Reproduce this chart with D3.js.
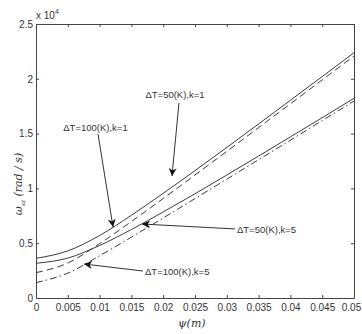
<!DOCTYPE html>
<html>
<head>
<meta charset="utf-8">
<script src="https://cdn.jsdelivr.net/npm/d3@7"></script>
<style>
body { margin: 0; background: #fff; }
.axis path, .axis line { stroke: #444; }
.axis text { font: 10px Arial, "Liberation Sans", sans-serif; fill: #333; }
.curve { fill: none; stroke: #3a3a3a; stroke-width: 1; }
.note { font: 9.5px Arial, "Liberation Sans", sans-serif; fill: #333; }
</style>
</head>
<body>
<svg id="chart" width="362" height="334"></svg>
<script>
// psi (m) sample points
var psi = [0, 0.005, 0.01, 0.015, 0.02, 0.025, 0.03, 0.035, 0.04, 0.045, 0.05];

// omega (rad/s)
var dT50k1 = [3620, 4300, 5700, 7550, 9550, 11620, 13740, 15880, 18040, 20200, 22380];
var dT100k1 = [2310, 3190, 4960, 6980, 9080, 11220, 13380, 15550, 17720, 19900, 22080];
var dT50k5 = [3170, 3640, 4790, 6250, 7850, 9510, 11220, 12950, 14700, 16450, 18220];
var dT100k5 = [1400, 2270, 3850, 5550, 7300, 9070, 10840, 12620, 14400, 16190, 17970];

var xTicks = [0, 0.005, 0.01, 0.015, 0.02, 0.025, 0.03, 0.035, 0.04, 0.045, 0.05];
var xTickLabels = ["0", "0.005", "0.01", "0.015", "0.02", "0.025", "0.03", "0.035", "0.04", "0.045", "0.05"];
var yTicks = [0, 5000, 10000, 15000, 20000, 25000];
var yTickLabels = ["0", "0.5", "1", "1.5", "2", "2.5"];

// annotations: label, text anchor point, arrow start, arrow tip (data units)
var noteLabels = ["\u0394T=50(K),k=1", "\u0394T=100(K),k=1", "\u0394T=50(K),k=5", "\u0394T=100(K),k=5"];
var noteText = [[0.02186, 18250], [0.00935, 15240], [0.0316, 5930], [0.01714, 2100]];
var noteFrom = [[0.02248, 17790], [0.00975, 14960], [0.03129, 6300], [0.01682, 2460]];
var noteTip = [[0.02138, 11130], [0.01211, 6480], [0.01667, 6750], [0.00755, 3100]];

var svg = d3.select("#chart"),
    margin = {top: 24, right: 8, bottom: 36, left: 36},
    width = +svg.attr("width") - margin.left - margin.right,
    height = +svg.attr("height") - margin.top - margin.bottom;

var x = d3.scaleLinear().domain([0, 0.05]).range([margin.left, margin.left + width]);
var y = d3.scaleLinear().domain([0, 25000]).range([margin.top + height, margin.top]);

// box with inward ticks
var xAxis = svg.append("g").attr("class", "axis")
    .attr("transform", "translate(0," + (margin.top + height) + ")")
    .call(d3.axisBottom(x).tickValues(xTicks).tickSizeInner(-3).tickSizeOuter(0).tickPadding(6)
        .tickFormat((d, i) => xTickLabels[i]));

// last label sits on the page edge, nudge it in
xAxis.selectAll(".tick text").filter((d, i) => i === xTicks.length - 1)
    .attr("dx", -3);

svg.append("g").attr("class", "axis")
    .attr("transform", "translate(0," + margin.top + ")")
    .call(d3.axisTop(x).tickValues(xTicks).tickSizeInner(-3).tickSizeOuter(0).tickFormat(""));

svg.append("g").attr("class", "axis")
    .attr("transform", "translate(" + margin.left + ",0)")
    .call(d3.axisLeft(y).tickValues(yTicks).tickSizeInner(-3).tickSizeOuter(0).tickPadding(3)
        .tickFormat((d, i) => yTickLabels[i]));

svg.append("g").attr("class", "axis")
    .attr("transform", "translate(" + (margin.left + width) + ",0)")
    .call(d3.axisRight(y).tickValues(yTicks).tickSizeInner(-3).tickSizeOuter(0).tickFormat(""));

// curves
var line = d3.line()
    .x((d, i) => x(psi[i]))
    .y(d => y(d))
    .curve(d3.curveMonotoneX);

var series = [
    {values: dT50k1, dash: null},
    {values: dT100k1, dash: "7,4"},
    {values: dT50k5, dash: null},
    {values: dT100k5, dash: "7,3,1.5,3"}
];

svg.selectAll(".curve")
    .data(series)
    .enter().append("path")
    .attr("class", "curve")
    .attr("stroke-dasharray", d => d.dash)
    .attr("d", d => line(d.values));

// arrows
svg.append("defs").append("marker")
    .attr("id", "head")
    .attr("viewBox", "0 0 10 10")
    .attr("refX", 10).attr("refY", 5)
    .attr("markerWidth", 9).attr("markerHeight", 8)
    .attr("markerUnits", "userSpaceOnUse")
    .attr("orient", "auto")
  .append("path")
    .attr("d", "M0,0L10,5L0,10L3,5Z")
    .attr("fill", "#111");

noteLabels.forEach(function(lab, i) {
    svg.append("line")
        .attr("x1", x(noteFrom[i][0])).attr("y1", y(noteFrom[i][1]))
        .attr("x2", x(noteTip[i][0])).attr("y2", y(noteTip[i][1]))
        .attr("stroke", "#333").attr("stroke-width", 1)
        .attr("marker-end", "url(#head)");
    svg.append("text")
        .attr("class", "note")
        .attr("x", x(noteText[i][0]))
        .attr("y", y(noteText[i][1]))
        .attr("text-anchor", i < 2 ? "middle" : "start")
        .text(lab);
});

// exponent
var ex = svg.append("text")
    .attr("class", "note")
    .attr("x", margin.left)
    .attr("y", 19)
    .style("font-size", "10px");
ex.append("tspan").text("x 10");
ex.append("tspan").attr("dy", -5).style("font-size", "7px").text("4");

// axis labels
svg.append("text")
    .attr("x", x(0.0245))
    .attr("y", 327)
    .attr("text-anchor", "middle")
    .style("font", "italic 11px 'DejaVu Serif', serif")
    .style("fill", "#333")
    .text("\u03c8(m)");

var yl = svg.append("text")
    .attr("transform", "translate(22," + (margin.top + 160) + ") rotate(-90)")
    .attr("text-anchor", "middle")
    .style("font", "italic 11px 'DejaVu Serif', serif")
    .style("fill", "#333");
yl.append("tspan").text("\u03c9");
yl.append("tspan").attr("dy", 3).style("font-size", "6px").text("sz");
yl.append("tspan").attr("dy", -3).text(" (rad / s)");
</script>
</body>
</html>
